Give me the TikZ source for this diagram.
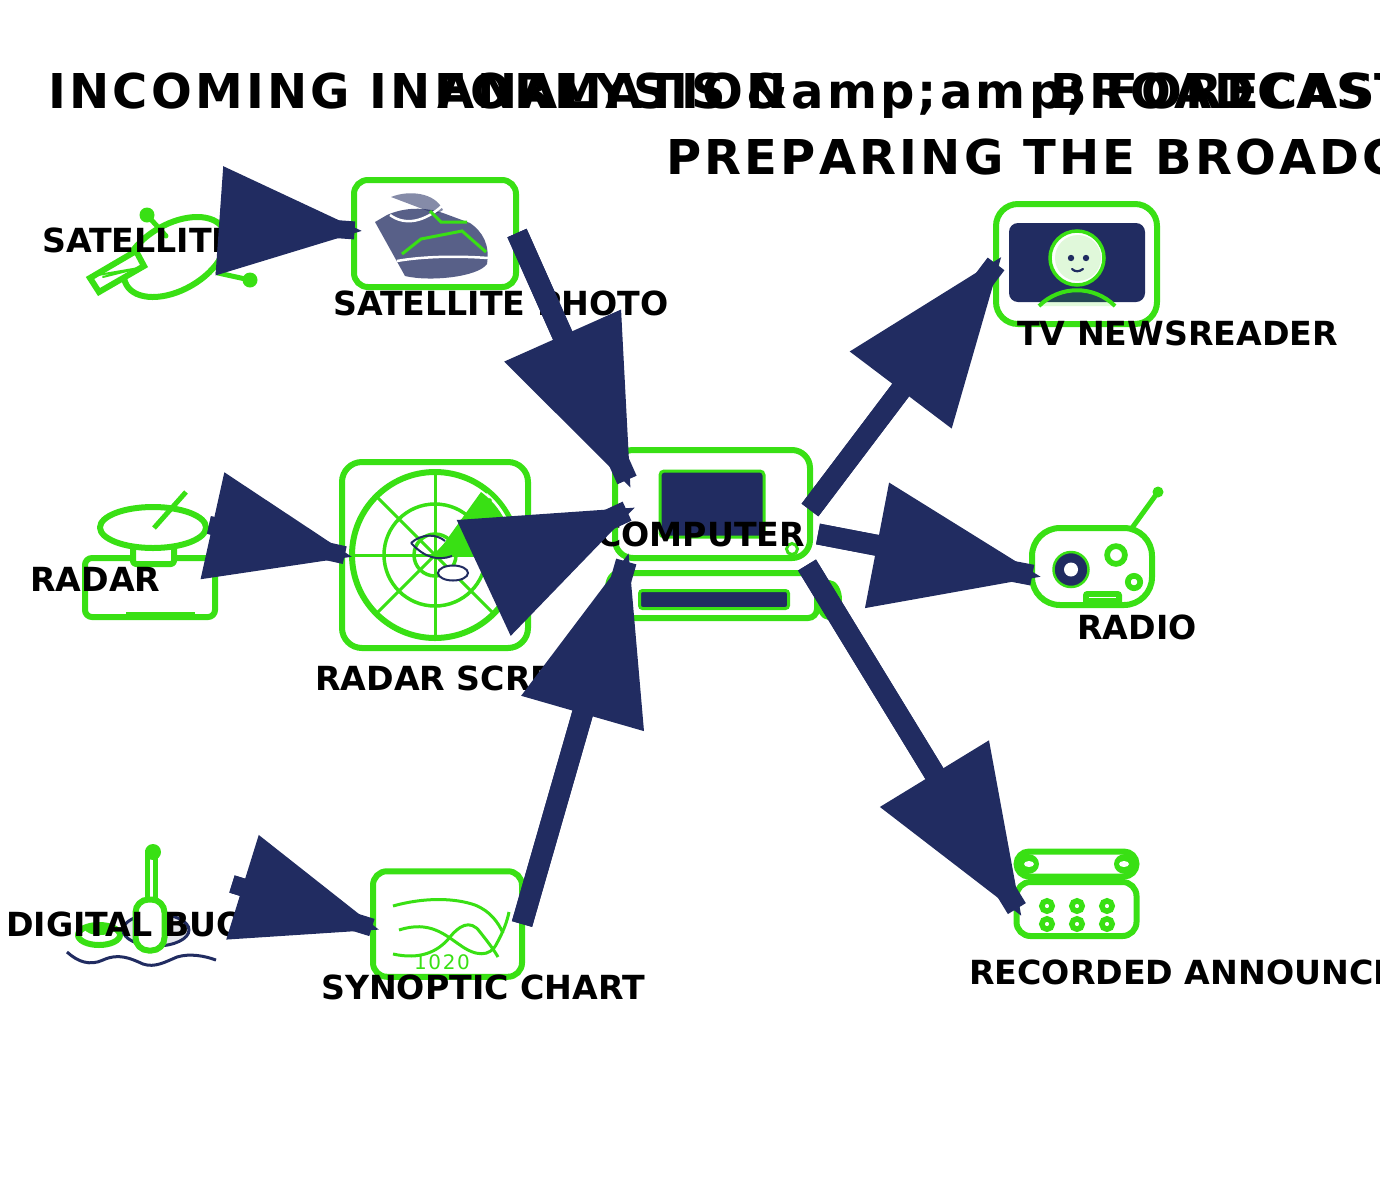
\documentclass[tikz,border=0pt]{standalone}
\usepackage{fontspec}
\setmainfont{DejaVu Sans}
\newfontfamily\headfont[LetterSpace=6.7,Kerning=Off]{DejaVu Sans}
\newfontfamily\chartfont[LetterSpace=8]{DejaVu Sans}
\usepackage{tikz}
\usetikzlibrary{arrows.meta}
\definecolor{SignalGreen}{RGB}{57,224,20}
\definecolor{DeepNavy}{RGB}{33,44,97}
\definecolor{PaleGreen}{RGB}{224,248,218}
\tikzset{
	head/.style={anchor=base west, inner sep=0pt, font=\headfont\bfseries\fontsize{48}{48}\selectfont},
	lab/.style={anchor=base west, inner sep=0pt, font=\bfseries\fontsize{33.2}{33.2}\selectfont},
	iconbox/.style={draw=SignalGreen, fill=white, line width=6pt, inner sep=0pt, outer sep=0pt},
	ln/.style={draw=SignalGreen, line width=#1, line cap=round, line join=round},
	ln/.default=6pt,
	flow/.style={DeepNavy, line width=#1*1pt, shorten >=#1*0.47pt,
		postaction={draw, shorten >=0pt, -{Triangle[length=#1*8pt,width=#1*5.8pt]}}},
	flow/.default=21
}
\begin{document}
\begin{tikzpicture}[x=1pt, y=-1pt]
	\useasboundingbox (0,0) rectangle (1380,1200);
	\clip (0,0) rectangle (1380,1200);
	\coordinate (satOut) at (222,221);
	\coordinate (photoIn) at (363,231);
	\coordinate (dishOut) at (209,525);
	\coordinate (scopeIn) at (353,557);
	\coordinate (buoyOut) at (232,884);
	\coordinate (chartIn) at (380,930);
	\coordinate (chartOut) at (522,924);
	\coordinate (compInS) at (629,552);
	\coordinate (photoOut) at (517,233);
	\coordinate (compInN) at (631,489);
	\coordinate (scopeOut) at (490,575);
	\coordinate (compInW) at (636,507);
	\coordinate (compOutN) at (810,510);
	\coordinate (tvIn) at (1002,256);
	\coordinate (compOutE) at (818,534);
	\coordinate (radioIn) at (1042,577);
	\coordinate (compOutS) at (807,565);
	\coordinate (recIn) at (1022,917);

	\draw[ln, rotate around={30:(175,257)}] (175,257) ellipse [x radius=56, y radius=33];
	\draw[ln=5pt] (147,215)--(166,236);
	\draw[ln=5pt] (250,280)--(218,273);
	\fill[SignalGreen] (147,215) circle (7.5);
	\fill[SignalGreen] (250,280) circle (7.5);
	\draw[ln, fill=white, line join=miter] (90,278)--(136,251)--(144,266)--(99,292)--cycle;
	\draw[ln=2pt] (98,275)--(139,268)--(103,277);

	\node[iconbox, minimum width=162pt, minimum height=107pt, rounded corners=14pt] (photo) at (435,233.5) {};
	\fill[DeepNavy, opacity=.75] (375,222)--(387,215) .. controls (405,207) and (425,207) .. (443,213)
		--(470,223) .. controls (483,232) and (490,245) .. (487,264)
		.. controls (478,277) and (430,282) .. (405,276)--cycle;
	\fill[DeepNavy, opacity=.55] (391,197) .. controls (408,190) and (435,192) .. (443,210)--(438,213)
		--(428,211)--cycle;
	\draw[white, line width=2.5pt] (390,215) .. controls (405,226) and (425,222) .. (443,205);
	\draw[white, line width=2.5pt] (397,261) .. controls (425,256) and (460,256) .. (488,258);
	\draw[SignalGreen, line width=3pt] (402,254)--(421,239)--(462,231)--(486,252);
	\draw[SignalGreen, line width=3pt] (430,211)--(441,222)--(467,222);

	\node[iconbox, minimum width=130pt, minimum height=59pt, rounded corners=7pt] (dishbase) at (150,587.5) {};
	\fill[SignalGreen] (126,612) rectangle (195,617);
	\draw[ln, fill=white, rounded corners=3pt] (133,545) rectangle (174,564);
	\draw[ln, fill=white] (153,527.5) ellipse [x radius=53, y radius=20.5];
	\draw[SignalGreen, line width=5pt] (154,528)--(186,492);

	\node[iconbox, minimum width=186pt, minimum height=186pt, rounded corners=20pt] (scope) at (435,555) {};
	\draw[SignalGreen, line width=6pt] (435,555) circle (83);
	\draw[SignalGreen, line width=3.5pt] (435,555) circle (51);
	\draw[SignalGreen, line width=3.5pt] (435,555) circle (21);
	\draw[SignalGreen, line width=3pt] (352,555)--(518,555) (435,472)--(435,638);
	\draw[SignalGreen, line width=3pt] (376,496)--(494,614) (376,614)--(494,496);
	\fill[SignalGreen] (435,556)--(481,492) arc (-54:0:78)--cycle;
	\draw[white, line width=1.5pt] (435,555) ++(-50:80) arc (-50:-28:80);
	\draw[DeepNavy, line width=2pt] (411,543) .. controls (422,533) and (437,534) .. (445,541)
		(452,556) .. controls (438,561) and (425,558) .. (411,543);
	\draw[DeepNavy, line width=2pt, fill=white] (453,573) ellipse [x radius=15, y radius=7.5];

	\node[iconbox, minimum width=195pt, minimum height=108pt, rounded corners=18pt] (monitor) at (712.5,504) {};
	\node[iconbox, fill=DeepNavy, line width=3pt, minimum width=104pt, minimum height=66pt, rounded corners=4pt] (display) at (712,504) {};
	\draw[SignalGreen, line width=3pt, fill=white] (792,549) circle (5.5);
	\draw[ln, fill=white] (829,600) ellipse [x radius=10, y radius=17];
	\draw[ln, fill=white] (618,588) ellipse [x radius=10, y radius=15];
	\node[iconbox, minimum width=207pt, minimum height=45pt, rounded corners=9pt] (tower) at (713.5,595.5) {};
	\node[iconbox, fill=DeepNavy, line width=3pt, minimum width=149pt, minimum height=18pt, rounded corners=3pt] (slot) at (714,599.5) {};

	\draw[ln] (99,935) ellipse [x radius=21, y radius=10];
	\fill[SignalGreen] (100,929) ellipse [x radius=15, y radius=6];
	\draw[DeepNavy, line width=3pt, fill=DeepNavy!12] (156,930) ellipse [x radius=33, y radius=16];
	\draw[DeepNavy, line width=3pt] (67,952) .. controls (78,962) and (90,966) .. (103,960)
		.. controls (118,953) and (130,958) .. (143,964) .. controls (155,968) and (165,962) .. (177,957)
		.. controls (190,953) and (205,956) .. (216,960);
	\draw[SignalGreen, line width=5pt] (147.5,852) rectangle (155.5,902);
	\fill[SignalGreen] (153,852) circle (8);
	\node[iconbox, minimum width=29pt, minimum height=51pt, rounded corners=13pt] (buoy) at (150,925) {};

	\node[iconbox, minimum width=149pt, minimum height=105.5pt, rounded corners=14pt] (chart) at (447.5,924) {};
	\draw[SignalGreen, line width=3pt] (393,906) .. controls (425,897) and (455,898) .. (475,905) .. controls (490,911) and (498,922) .. (503,933);
	\draw[SignalGreen, line width=3pt] (399,930) .. controls (430,920) and (445,935) .. (460,945) .. controls (475,956) and (490,958) .. (497,943) .. controls (503,932) and (507,922) .. (509,912);
	\draw[SignalGreen, line width=3pt] (393,954) .. controls (420,960) and (438,952) .. (450,937) .. controls (458,927) and (470,918) .. (480,932) .. controls (488,942) and (494,950) .. (498,957);
	\node[anchor=base, inner sep=0pt, SignalGreen, font=\chartfont\fontsize{20}{20}\selectfont] (chartval) at (442,969) {1020};

	\node[iconbox, minimum width=161pt, minimum height=120pt, rounded corners=22pt] (tvset) at (1076.5,264) {};
	\node[fill=DeepNavy, inner sep=0pt, minimum width=136pt, minimum height=79pt, rounded corners=9pt] (tvscreen) at (1077,262.5) {};
	\fill[SignalGreen, opacity=.15] (1039,306) .. controls (1060,285) and (1094,285) .. (1115,306)--cycle;
	\draw[SignalGreen, line width=4pt] (1039,306) .. controls (1060,285) and (1094,285) .. (1115,306);
	\draw[SignalGreen, line width=3.5pt, fill=white] (1077,258) circle (27);
	\fill[PaleGreen] (1078,258) circle (23);
	\fill[DeepNavy] (1071,258) circle (3.2);
	\fill[DeepNavy] (1086,258) circle (3.2);
	\draw[DeepNavy, line width=2.2pt, line cap=round] (1072,269) .. controls (1075,272) and (1079,272) .. (1083,269);

	\draw[SignalGreen, line width=5pt] (1132,528)--(1158,492);
	\fill[SignalGreen] (1158,492) circle (5.5);
	\node[iconbox, minimum width=120pt, minimum height=77pt, rounded corners=28pt] (radio) at (1092,566.5) {};
	\draw[SignalGreen, line width=2.5pt, fill=DeepNavy] (1071,569.5) circle (17.5);
	\fill[white] (1071,569.5) circle (7);
	\draw[SignalGreen, line width=5.7pt, fill=white] (1116,555) circle (8.9);
	\draw[SignalGreen, line width=5.7pt, fill=white] (1134,582) circle (6.2);
	\fill[SignalGreen, rounded corners=4pt] (1083,591) rectangle (1122,606);
	\draw[white, line width=1pt] (1089,597)--(1116,597);

	\node[iconbox, minimum width=120pt, minimum height=25pt, rounded corners=12.5pt] (tape) at (1076.5,864) {};
	\fill[SignalGreen] (1028,864) ellipse [x radius=11, y radius=10];
	\fill[SignalGreen] (1125,864) ellipse [x radius=11, y radius=10];
	\fill[white] (1029,864) ellipse [x radius=5, y radius=3];
	\fill[white] (1124,864) ellipse [x radius=5, y radius=3];
	\node[iconbox, minimum width=120pt, minimum height=54pt, rounded corners=14pt] (panel) at (1076.5,909) {};
	\foreach \px in {1047,1077,1107}
		\foreach \py in {906,924}
			\draw[SignalGreen, line width=5.5pt] (\px,\py) circle (5.2);

	\node[head] (titleIn) at (48,108) {INCOMING INFORMATION};
	\node[head] (titleFc) at (437,108) {ANALYSIS \&amp;amp; FORECAST};
	\node[head] (titleBc) at (1050,108) {BROADCAST};
	\node[head] (titlePr) at (666,174) {PREPARING THE BROADCAST};

	\node[lab] (satLabel) at (42,252) {SATELLITE};
	\node[lab] (photoLabel) at (333,315) {SATELLITE PHOTO};
	\node[lab] (dishLabel) at (30,591) {RADAR};
	\node[lab] (scopeLabel) at (315,690) {RADAR SCREEN};
	\node[lab] (compLabel) at (597,546) {COMPUTER};
	\node[lab] (buoyLabel) at (6,936) {DIGITAL BUOY};
	\node[lab] (chartLabel) at (321,999) {SYNOPTIC CHART};
	\node[lab] (tvLabel) at (1017,345) {TV NEWSREADER};
	\node[lab] (radioLabel) at (1077,639) {RADIO};
	\node[lab] (recLabel) at (969,984) {RECORDED ANNOUNCEMENT};

	\draw[flow=18] (satOut)--(photoIn);
	\draw[flow=18] (dishOut)--(scopeIn);
	\draw[flow=18] (buoyOut)--(chartIn);
	\draw[flow] (chartOut)--(compInS);
	\draw[flow] (photoOut)--(compInN);
	\draw[flow] (scopeOut)--(compInW);
	\draw[flow] (compOutN)--(tvIn);
	\draw[flow] (compOutE)--(radioIn);
	\draw[flow] (compOutS)--(recIn);
\end{tikzpicture}
\end{document}
